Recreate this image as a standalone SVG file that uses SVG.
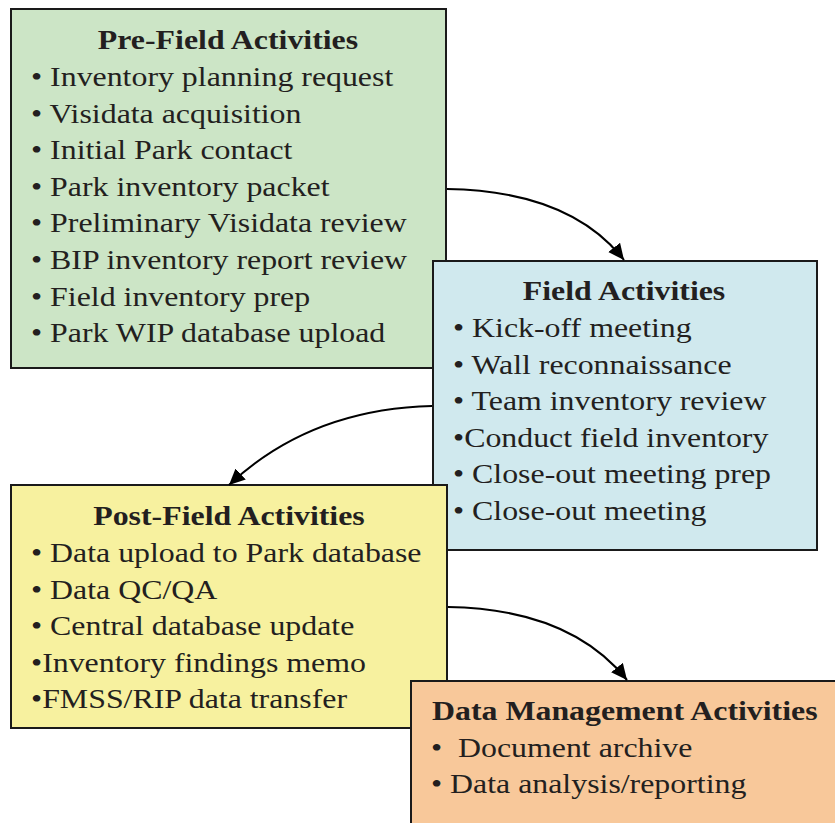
<svg xmlns="http://www.w3.org/2000/svg" width="835" height="823" viewBox="0 0 835 823">
<style>
.box{stroke:#1a1a1a;stroke-width:2}
.t{font-family:"Liberation Serif","Times New Roman",serif;font-size:27px;fill:#231f20}
.h{font-weight:bold;text-anchor:middle}
.hl{font-weight:bold}
.c{fill:none;stroke:#000;stroke-width:2}
</style>
<defs>
<marker id="ah" markerUnits="userSpaceOnUse" markerWidth="17" markerHeight="16" refX="16" refY="7.5" orient="auto">
<path d="M0,0 L16,7.5 L0,15 z" fill="#000"/>
</marker>
</defs>
<rect width="835" height="823" fill="#fff"/>
<g id="pre-field">
<rect class="box" x="11" y="9" width="435" height="359" fill="#cce5c6"/>
<text class="t h" transform="translate(228,49) scale(1.18,1)">Pre-Field Activities</text>
<text class="t" transform="translate(31,86) scale(1.18,1)">• Inventory planning request</text>
<text class="t" transform="translate(31,122.6) scale(1.18,1)">• Visidata acquisition</text>
<text class="t" transform="translate(31,159.2) scale(1.18,1)">• Initial Park contact</text>
<text class="t" transform="translate(31,195.8) scale(1.18,1)">• Park inventory packet</text>
<text class="t" transform="translate(31,232.4) scale(1.18,1)">• Preliminary Visidata review</text>
<text class="t" transform="translate(31,269) scale(1.18,1)">• BIP inventory report review</text>
<text class="t" transform="translate(31,305.6) scale(1.18,1)">• Field inventory prep</text>
<text class="t" transform="translate(31,342.2) scale(1.18,1)">• Park WIP database upload</text>
</g>
<g id="field">
<rect class="box" x="433" y="261" width="384" height="289" fill="#d0e9ee"/>
<text class="t h" transform="translate(624,300) scale(1.18,1)">Field Activities</text>
<text class="t" transform="translate(453,337) scale(1.18,1)">• Kick-off meeting</text>
<text class="t" transform="translate(453,373.6) scale(1.18,1)">• Wall reconnaissance</text>
<text class="t" transform="translate(453,410.2) scale(1.18,1)">• Team inventory review</text>
<text class="t" transform="translate(453,446.8) scale(1.18,1)">•Conduct field inventory</text>
<text class="t" transform="translate(453,483.4) scale(1.18,1)">• Close-out meeting prep</text>
<text class="t" transform="translate(453,520) scale(1.18,1)">• Close-out meeting</text>
</g>
<g id="post-field">
<rect class="box" x="11" y="485" width="436" height="243" fill="#f7f19f"/>
<text class="t h" transform="translate(229,525) scale(1.18,1)">Post-Field Activities</text>
<text class="t" transform="translate(31,562) scale(1.18,1)">• Data upload to Park database</text>
<text class="t" transform="translate(31,598.6) scale(1.18,1)">• Data QC/QA</text>
<text class="t" transform="translate(31,635.2) scale(1.18,1)">• Central database update</text>
<text class="t" transform="translate(31,671.8) scale(1.18,1)">•Inventory findings memo</text>
<text class="t" transform="translate(31,708.4) scale(1.18,1)">•FMSS/RIP data transfer</text>
</g>
<g id="data-management">
<rect class="box" x="411" y="681" width="430" height="150" fill="#f8c89a"/>
<text class="t hl" transform="translate(432,720) scale(1.18,1)">Data Management Activities</text>
<text class="t" xml:space="preserve" transform="translate(431,757) scale(1.18,1)">•  Document archive</text>
<text class="t" transform="translate(431,793) scale(1.18,1)">• Data analysis/reporting</text>
</g>
<g id="connectors">
<path class="c" d="M447,189 Q570,191 624,260" marker-end="url(#ah)"/>
<path class="c" d="M432,406 Q310,409 229,485" marker-end="url(#ah)"/>
<path class="c" d="M448,607 Q570,609 627,680" marker-end="url(#ah)"/>
</g>
</svg>
